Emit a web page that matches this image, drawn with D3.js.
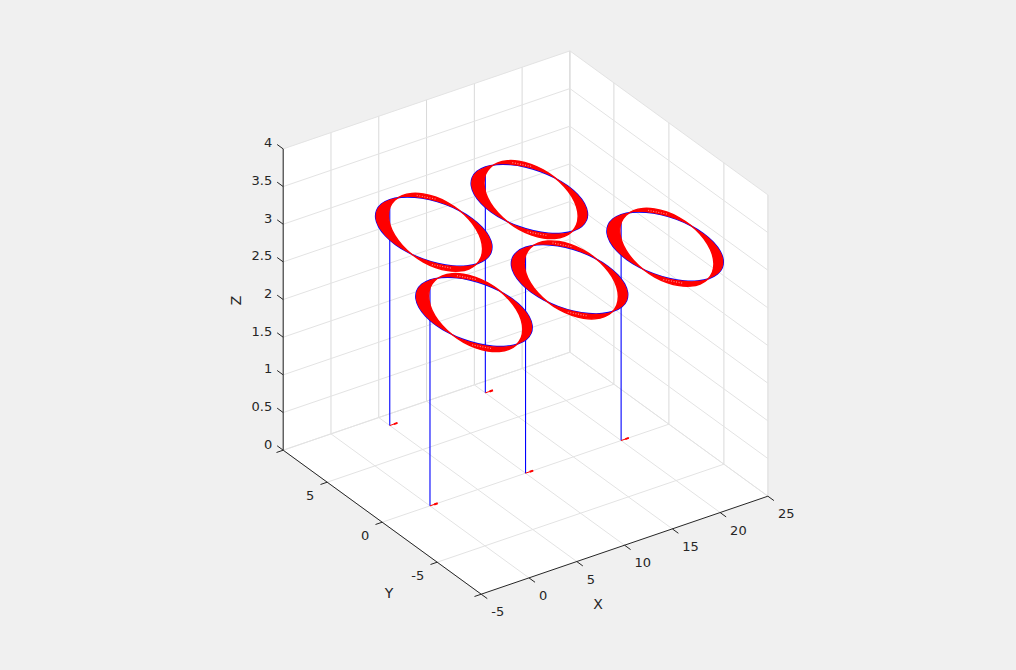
<!DOCTYPE html>
<html><head><meta charset="utf-8">
<script src="https://cdnjs.cloudflare.com/ajax/libs/d3/7.8.5/d3.min.js"></script>
<style>html,body{margin:0;padding:0;background:#f0f0f0}svg{display:block}text{font-family:"DejaVu Sans",sans-serif;fill:#262626}</style>
</head><body><svg id="c" width="1016" height="670"></svg>
<script>
// ---- data ----
const xTicks = [-5,0,5,10,15,20,25];
const yTicks = [-5,0,5];
const zTicks = [0,0.5,1,1.5,2,2.5,3,3.5,4];
const zTickLabels = ["0","0.5","1","1.5","2","2.5","3","3.5","4"];
const poleX = [0,10,20,5,15];
const poleY = [0,0,0,8,8];
const poleTopZ = 3;
const baseArrowLength = 0.8;
// ring path (offset from pole top, x and y data units, in the plane z = poleTopZ)
const ringDx = [0,1.035,2,2.828,3.464,3.864,4,3.864,3.464,2.828,2,1.035,0,-1.035,-2,-2.828,-3.464,-3.864,-4,-3.864,-3.464,-2.828,-2,-1.035];
const ringDy = [0,-0.136,-0.536,-1.172,-2,-2.965,-4,-5.035,-6,-6.828,-7.464,-7.864,-8,-7.864,-7.464,-6.828,-6,-5.035,-4,-2.965,-2,-1.172,-0.536,-0.136];
// tips of the red vectors, as seen in the same plane
const tipDx = [1.77,0.819,-0.183,-1.169,-2.072,-2.831,-3.393,-3.721,-3.79,-3.597,-3.157,-2.499,-1.664,-0.713,0.289,1.275,2.178,2.937,3.499,3.827,3.896,3.703,3.263,2.605];
const tipDy = [-6.898,-7.581,-8.026,-8.203,-8.105,-7.733,-7.113,-6.289,-5.317,-4.263,-3.198,-2.197,-1.324,-0.641,-0.196,-0.019,-0.117,-0.489,-1.109,-1.933,-2.905,-3.959,-5.024,-6.025];
// pale arrowhead texture inside the band
const hatchDx = [[2.339,3.372],[-3.367,-2.302]];
const hatchDy = [[-0.419,-1.341],[-6.757,-7.651]];

// ---- projection through linear scales ----
const xDomain=[-5,25], yDomain=[-9,9], zDomain=[0,4];
const xToSx=d3.scaleLinear().domain(xDomain).range([0,286.7]);
const xToSy=d3.scaleLinear().domain(xDomain).range([0,-98]);
const yToSx=d3.scaleLinear().domain(yDomain).range([0,-198]);
const yToSy=d3.scaleLinear().domain(yDomain).range([0,-144]);
const zToSy=d3.scaleLinear().domain(zDomain).range([0,-301.3]);
const ox=481.2, oy=594.2;
const P=(x,y,z)=>[ox+xToSx(x)+yToSx(y), oy+xToSy(x)+yToSy(y)+zToSy(z)];

const svg=d3.select("#c");
const [x0,x1]=xDomain,[y0,y1]=yDomain,[z0,z1]=zDomain;
const line=d3.line();
// walls
svg.append("path").attr("fill","#fff")
 .attr("d",line([P(x0,y1,z0),P(x0,y0,z0),P(x1,y0,z0),P(x1,y0,z1),P(x1,y1,z1),P(x0,y1,z1)])+"Z");
const grid=svg.append("g").attr("fill","none").attr("stroke-width",1);
function seg(g,a,b,c){return g.append("path").attr("d",line([a,b])).attr("stroke",c);}
const gV="#d9d9d9", gH="#e3e3e3";
// grid on walls and floor
xTicks.forEach(v=>{
  seg(grid,P(v,y1,z0),P(v,y1,z1),gV);
  seg(grid,P(v,y0,z0),P(v,y1,z0),gH);
});
yTicks.concat([y1]).forEach(v=>{
  seg(grid,P(x1,v,z0),P(x1,v,z1),gV);
  seg(grid,P(x0,v,z0),P(x1,v,z0),gH);
});
seg(grid,P(x1,y0,z0),P(x1,y0,z1),gV);
zTicks.forEach(v=>{
  seg(grid,P(x0,y1,v),P(x1,y1,v),gH);
  seg(grid,P(x1,y1,v),P(x1,y0,v),gH);
});
// axes
const axC="#262626", ax=svg.append("g").attr("fill","none").attr("stroke-width",1);
seg(ax,P(x0,y0,z0),P(x1,y0,z0),axC);
seg(ax,P(x0,y1,z0),P(x0,y0,z0),axC);
seg(ax,P(x0,y1,z0),P(x0,y1,z1),axC);
xTicks.forEach(v=>seg(ax,P(v,y0,z0),P(v,y0-0.55,z0),axC));
yTicks.concat([y0,y1]).forEach(v=>seg(ax,P(x0,v,z0),P(x0-0.7,v,z0),axC));
zTicks.forEach(v=>seg(ax,P(x0,y1,v),P(x0,y1+0.55,v),axC));
// tick labels
const fs=13;
xTicks.forEach(v=>{const p=P(v,y0,z0);svg.append("text").attr("x",p[0]+10).attr("y",p[1]+22).attr("font-size",fs).text(v);});
yTicks.forEach(v=>{const p=P(x0,v,z0);svg.append("text").attr("x",p[0]-13).attr("y",p[1]+18).attr("text-anchor","end").attr("font-size",fs).text(v);});
zTicks.forEach((v,i)=>{const p=P(x0,y1,v);svg.append("text").attr("x",p[0]-11).attr("y",p[1]-1.5).attr("text-anchor","end").attr("font-size",fs).text(zTickLabels[i]);});
svg.append("text").attr("x",598).attr("y",609).attr("text-anchor","middle").attr("font-size",14).text("X");
svg.append("text").attr("x",389).attr("y",598).attr("text-anchor","middle").attr("font-size",14).text("Y");
svg.append("text").attr("transform","translate(240.5,300.5) rotate(-90)").attr("text-anchor","middle").attr("font-size",14).text("Z");
// poles
const marks=svg.append("g");
poleX.forEach((px,i)=>{
  const py=poleY[i];
  marks.append("path").attr("fill","none").attr("stroke","#0000ff").attr("stroke-width",1.1)
   .attr("d",line([P(px,py,0),P(px,py,poleTopZ)]));
  const a=P(px,py,0), b=P(px+baseArrowLength,py,0), h=P(px+baseArrowLength*0.55,py,0);
  marks.append("path").attr("fill","none").attr("stroke","#ff0000").attr("stroke-width",1).attr("d",line([a,b]));
  marks.append("path").attr("fill","none").attr("stroke","#ff0000").attr("stroke-width",2).attr("d",line([h,b]));
});
// rings
const closed=d3.line().curve(d3.curveCatmullRomClosed);
poleX.forEach((px,i)=>{
  const py=poleY[i];
  const blue=ringDx.map((d,k)=>P(px+d,py+ringDy[k],poleTopZ));
  const tip=tipDx.map((d,k)=>P(px+d,py+tipDy[k],poleTopZ));
  marks.append("path").attr("fill","none").attr("stroke","#0000ff").attr("stroke-width",1.3).attr("d",closed(blue));
  marks.append("path").attr("fill","#ff0000").attr("fill-rule","evenodd").attr("d",closed(blue)+closed(tip));
  marks.append("path").attr("fill","none").attr("stroke","#ff0000").attr("stroke-width",1.4).attr("d",closed(tip));
  hatchDx.forEach((hx,h)=>{
    marks.append("path").attr("fill","none").attr("stroke","#ff8a8a").attr("stroke-width",1.2)
     .attr("stroke-dasharray","1 1.6")
     .attr("d",line(hx.map((d,k)=>P(px+d,py+hatchDy[h][k],poleTopZ))));
  });
});
</script></body></html>
